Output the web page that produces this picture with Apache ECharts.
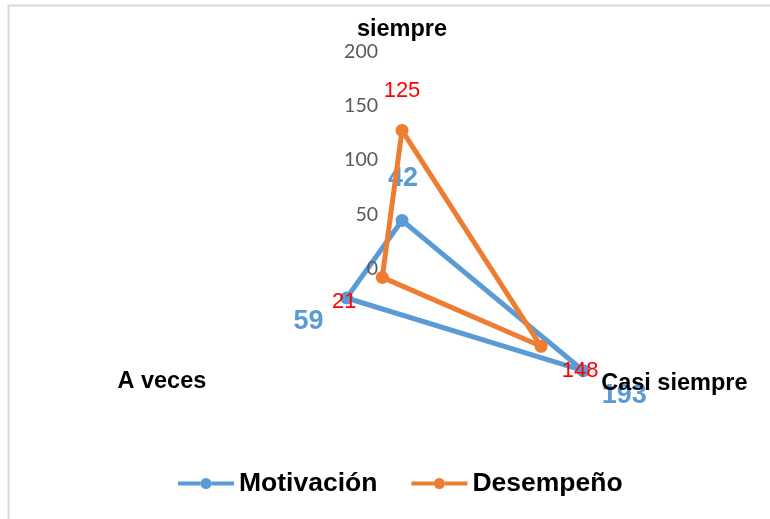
<!DOCTYPE html>
<html>
<head>
<meta charset="utf-8">
<style>
  html, body { margin: 0; padding: 0; background: #fff; }
  #chart { width: 770px; height: 519px; }
</style>
<script src="https://cdn.jsdelivr.net/npm/echarts@6/dist/echarts.min.js"></script>
</head>
<body>
<div id="chart"></div>
<script>
// Radar axes, in drawing order (top, then counter-clockwise)
const axisNames = ['siempre', 'A veces', 'Casi siempre'];
const axisMax = 200;
const tickLabels = ['0', '50', '100', '150', '200'];

// Series values, same order as axisNames
const motivacion = [42, 59, 193];
const desempeno = [125, 21, 148];

const seriesNames = ['Motivación', 'Desempeño'];
const colors = ['#5B9BD5', '#ED7D31'];

// Legend icon: line with a dot in the middle
const lineDotIcon = 'path://M0,3.5L22.5,3.5L22.5,7.5L0,7.5Z M33.5,3.5L56,3.5L56,7.5L33.5,7.5Z M22.5,5.5A5.5,5.5,0,1,1,33.5,5.5A5.5,5.5,0,1,1,22.5,5.5Z';

// Value labels sit beside their point: padding pushes the text away from the
// point centre (top axis: above; lower-left: left/below; lower-right: right/below)
const bluePads = [
  [0, 0, 84, 2],
  [48, 76, 0, 0],
  [50, 0, 0, 82]
];
const redPads = [
  [0, 0, 78, 0],
  [50, 76, 0, 0],
  [50, 0, 0, 78]
];

function richLabel(values, pads, base) {
  const rich = {};
  pads.forEach((p, i) => {
    rich['p' + i] = Object.assign({ padding: p }, base);
  });
  return {
    show: true,
    position: 'inside',
    formatter: function (params) {
      const i = values.indexOf(Number(params.value));
      return '{p' + (i < 0 ? 0 : i) + '|' + params.value + '}';
    },
    rich: rich
  };
}

const nameGaps = [7, 9, 13];

const nameFont = {
  color: '#000000',
  fontFamily: 'Liberation Sans, Arial, sans-serif',
  fontWeight: 'bold',
  fontSize: 23.5
};
const tickFont = {
  color: '#595959',
  fontFamily: 'Lato, sans-serif',
  fontSize: 19.5
};

const chart = echarts.init(document.getElementById('chart'));

chart.setOption({
  animation: false,
  backgroundColor: '#ffffff',
  graphic: [{
    type: 'polyline',
    shape: { points: [[8.5, 519], [8.5, 5.5], [770, 5.5]] },
    style: { stroke: '#d9d9d9', lineWidth: 2, fill: null },
    silent: true
  }],
  legend: {
    bottom: 17,
    left: 173,
    itemWidth: 56,
    itemHeight: 11,
    itemGap: 34,
    icon: lineDotIcon,
    textStyle: {
      fontFamily: 'Liberation Sans, Arial, sans-serif',
      fontWeight: 'bold',
      fontSize: 26.5,
      color: '#000000'
    },
    data: seriesNames.map((n, i) => ({ name: n, itemStyle: { color: colors[i] } }))
  },
  radar: {
    z: 4,
    center: [402, 266],
    radius: 217,
    startAngle: 90,
    shape: 'polygon',
    splitNumber: tickLabels.length - 1,
    indicator: axisNames.map((n, i) => {
      const ind = { name: n, min: 0, max: axisMax, nameGap: nameGaps[i] };
      if (i > 0) ind.axisLabel = { show: false };
      return ind;
    }),
    axisName: Object.assign({
      formatter: function (name) {
        return (axisNames.indexOf(name) === 0 ? '{top|' : '{side|') + name + '}';
      },
      rich: {
        top: Object.assign({}, nameFont),
        side: Object.assign({ padding: [6, 0, 0, 0] }, nameFont)
      }
    }, nameFont),
    axisLine: { show: false },
    axisTick: { show: false },
    splitLine: { show: false },
    splitArea: { show: false },
    axisLabel: Object.assign({
      show: true,
      margin: 24,
      showMinLabel: true,
      showMaxLabel: true,
      hideOverlap: false,
      formatter: function (v) {
        const i = tickLabels.indexOf(String(v));
        return i >= 0 ? '{t|' + tickLabels[i] + '}' : '';
      },
      rich: {
        t: Object.assign({ padding: [5, 0, 0, 0] }, tickFont)
      }
    }, tickFont)
  },
  series: [
    {
      type: 'radar',
      name: seriesNames[0],
      z: 2,
      symbol: 'circle',
      symbolSize: 13,
      lineStyle: { width: 5, color: colors[0] },
      itemStyle: { color: colors[0] },
      label: richLabel(motivacion, bluePads, {
        color: colors[0],
        fontFamily: 'Liberation Sans, Arial, sans-serif',
        fontWeight: 'bold',
        fontSize: 27
      }),
      data: [{ name: seriesNames[0], value: motivacion }]
    },
    {
      type: 'radar',
      name: seriesNames[1],
      z: 3,
      symbol: 'circle',
      symbolSize: 13,
      lineStyle: { width: 5, color: colors[1] },
      itemStyle: { color: colors[1] },
      label: richLabel(desempeno, redPads, {
        color: '#FF0000',
        fontFamily: 'Liberation Sans, Arial, sans-serif',
        fontWeight: 'normal',
        fontSize: 22
      }),
      data: [{ name: seriesNames[1], value: desempeno }]
    }
  ]
});
</script>
</body>
</html>
